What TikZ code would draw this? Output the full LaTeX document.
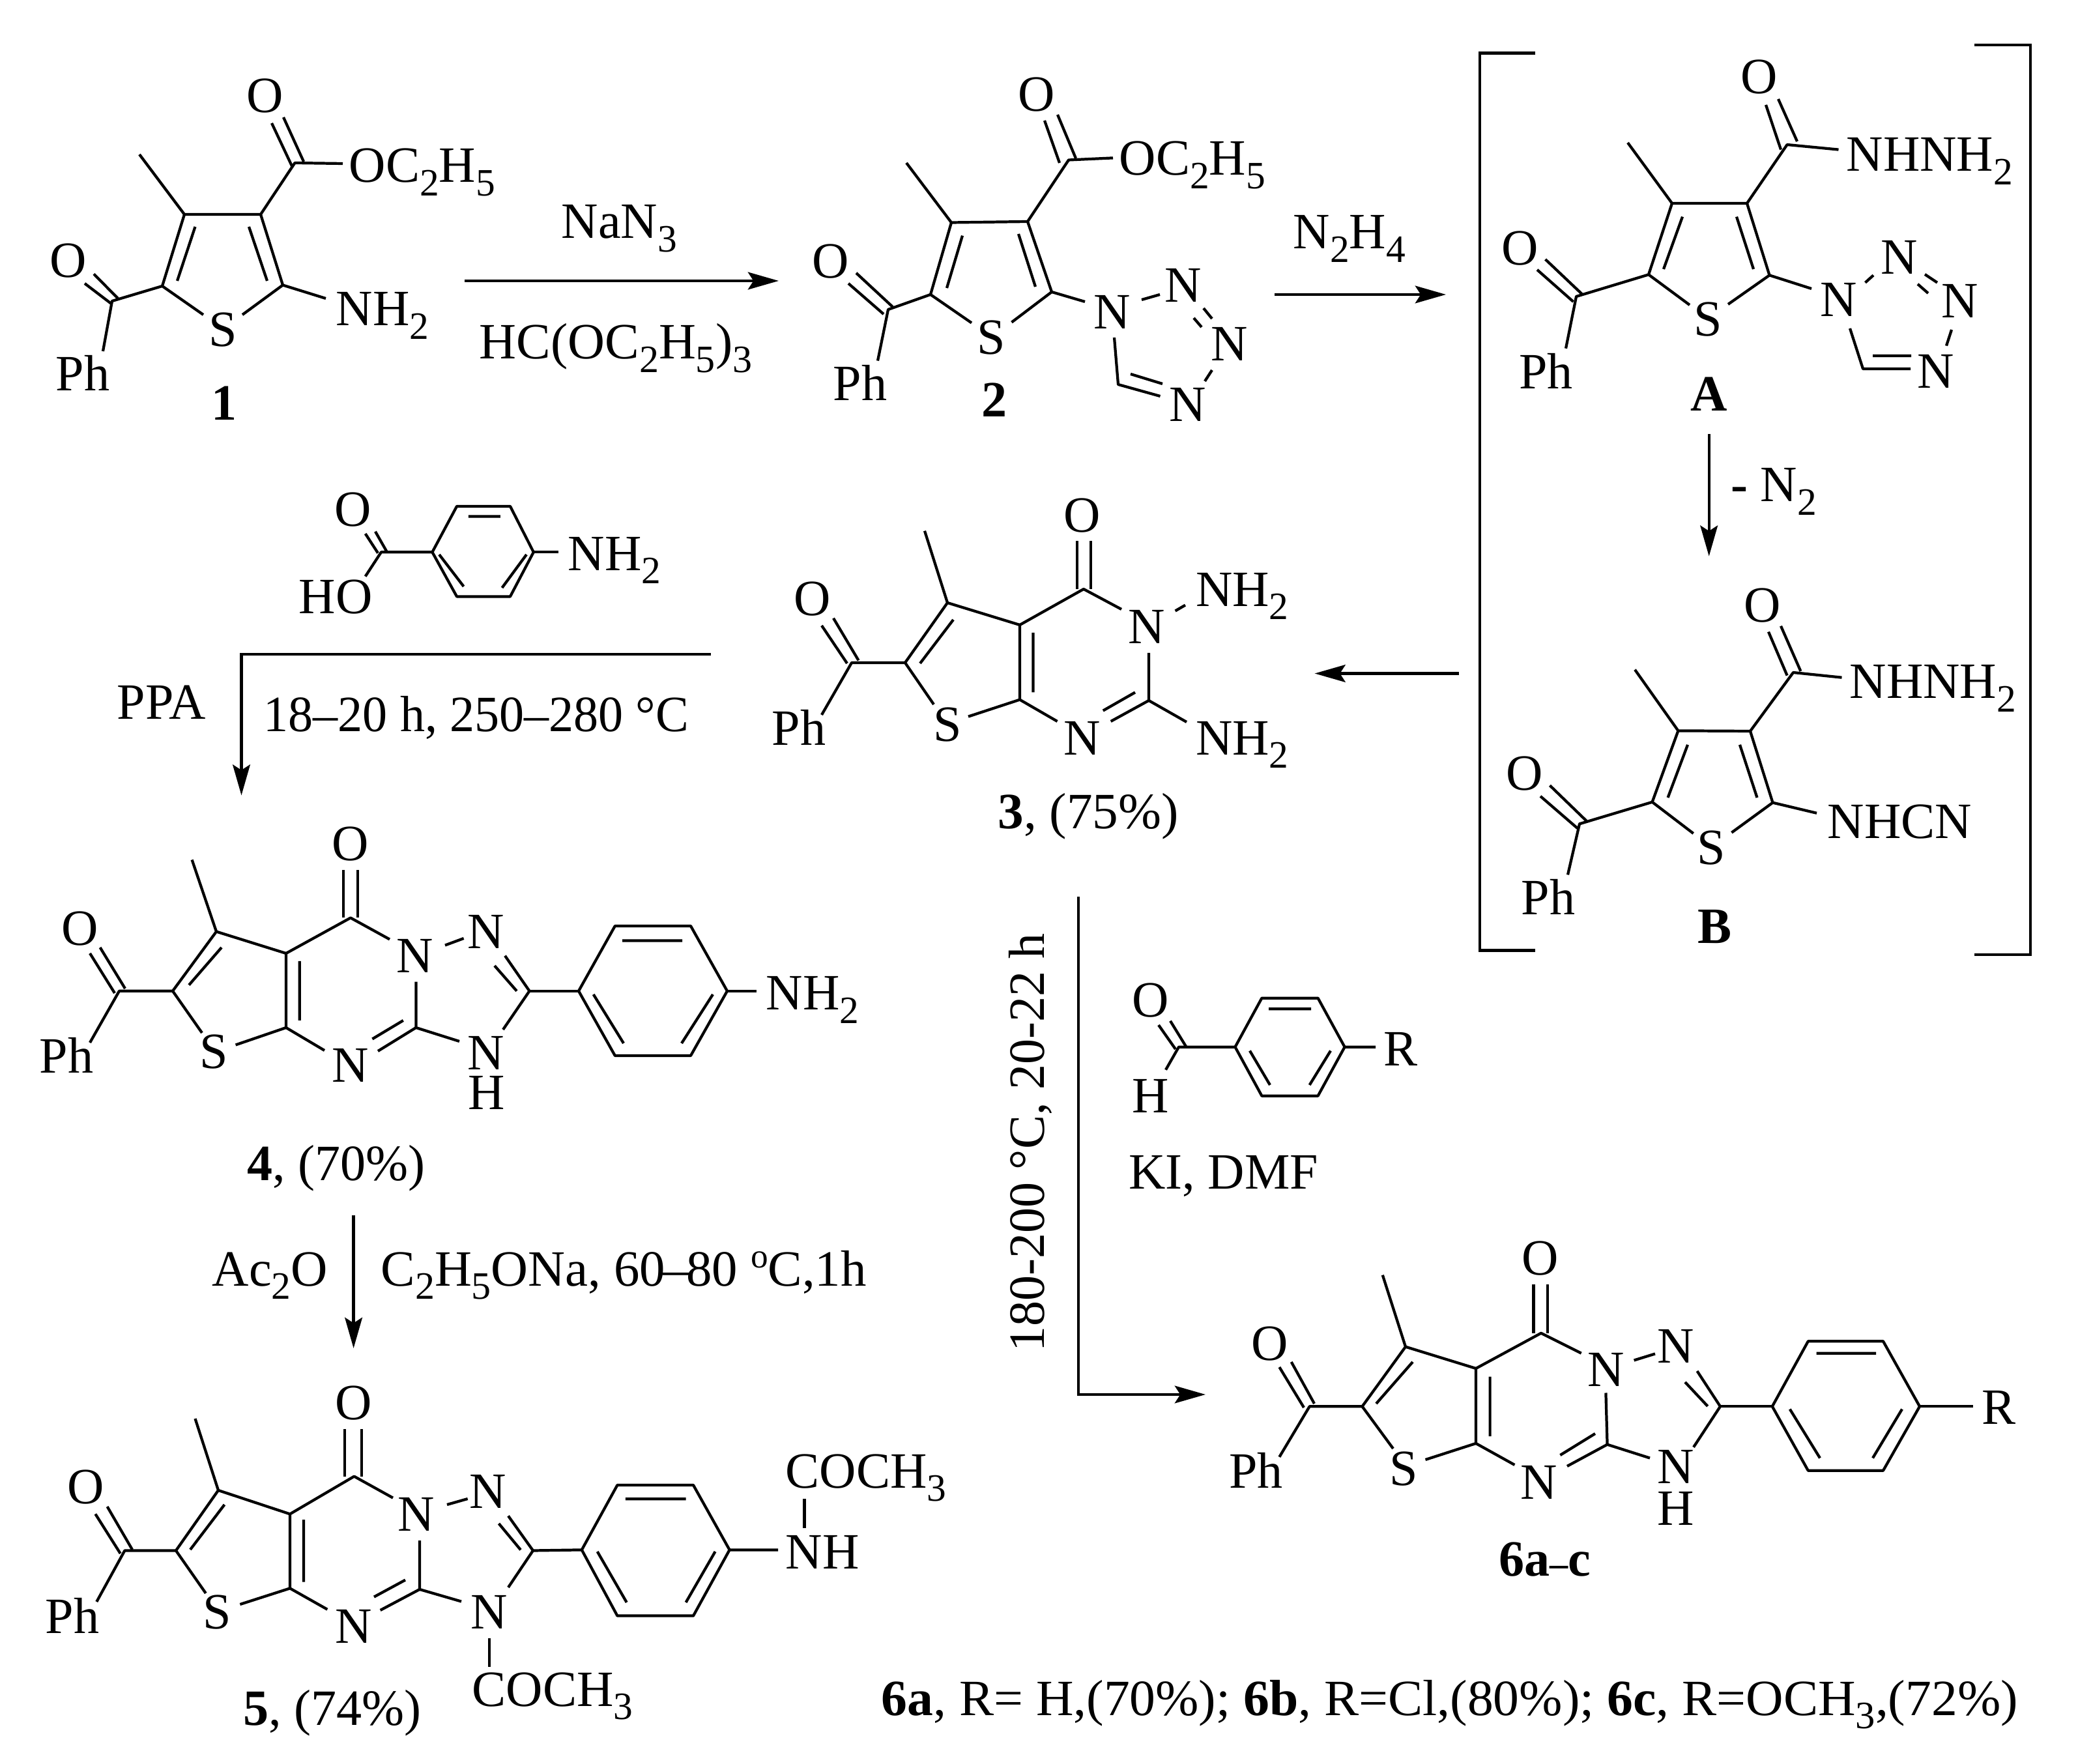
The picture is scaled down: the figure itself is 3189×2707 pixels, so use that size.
\documentclass[tikz,border=0pt]{standalone}
\usepackage{fontspec}
\setmainfont{Liberation Serif}
\usetikzlibrary{arrows.meta}
\newcommand{\su}[1]{\raisebox{-5.7pt}{\fontsize{16.9}{18}\selectfont #1}}
\tikzset{
  bond/.style={line width=1.2pt,line join=round,line cap=butt},
  conn/.style={line width=1.2pt,line join=miter},
  arr/.style={conn,-{Stealth[length=13.4pt,width=7.6pt,inset=2.4pt]}},
  lbl/.style={inner sep=0pt,anchor=base,font=\fontsize{22.2}{26}\selectfont},
  lblw/.style={inner sep=0pt,anchor=base west,font=\fontsize{22.2}{26}\selectfont}
}
\begin{document}
\begin{tikzpicture}[x=0.01cm,y=-0.01cm]
\useasboundingbox[fill=white] (0,0) rectangle (3189,2707);
% ---------- compound 1
\draw[bond] (214,237)--(283,329)--(400,329)--(434,437.5)--(372,483);
\draw[bond] (283,329)--(249,439)--(312,483);
\draw[bond] (434,437.5)--(500,458);
\draw[bond] (400,329)--(452.5,250)--(526,251);
\draw[bond] (449,257)--(417,189) (466,248)--(435,180);
\draw[bond] (299.5,348)--(272,431) (382,348)--(410,431);
\draw[bond] (249,439)--(172,462)--(158,539);
\draw[bond] (130,435)--(172,467) (144,420.5)--(181,458);
\node[lbl] (o1a) at (407,173) {O};
\node[lblw] (oet1) at (535,280) {OC\su{2}H\su{5}};
\node[lblw] (nh1) at (515,500) {NH\su{2}};
\node[lbl] (s1) at (342,532) {S};
\node[lbl] (o1b) at (105,426) {O};
\node[lblw] (ph1) at (85,600) {Ph};
\node[lbl] (c1) at (344,645) {\textbf{1}};
\node[lblw] (r1a) at (861,366) {NaN\su{3}};
\node[lblw] (r1b) at (735,551) {\scalebox{1.01}[1]{HC(OC\su{2}H\su{5})\su{3}}};
\coordinate (a1s) at (713,431); \coordinate (a1e) at (1195,431);
\draw[arr] (a1s)--(a1e);
% ---------- compound 2
\draw[bond] (1391,250)--(1460,341.5)--(1577,340)--(1614,448)--(1552.5,494.6);
\draw[bond] (1460,341.5)--(1428,452)--(1491,495.5);
\draw[bond] (1614,448)--(1665,463);
\draw[bond] (1577,340)--(1640,245.5)--(1708,242.4);
\draw[bond] (1626,250)--(1603,185) (1651,243)--(1623,176);
\draw[bond] (1477,361.6)--(1453,442) (1563,359)--(1589,440);
\draw[bond] (1428,452)--(1363,475)--(1347,553.6);
\draw[bond] (1302,435)--(1356,482) (1314,419)--(1370,471);
\draw[bond] (1752,460)--(1780,452);
\draw[bond] (1847,473)--(1860,489) (1832,488)--(1844,502);
\draw[bond] (1860,568)--(1849,585);
\draw[bond] (1710,518)--(1716,590)--(1780.5,608) (1735,574)--(1784,589);
\node[lbl] (n2a) at (1707,504.5) {N};
\node[lbl] (n2b) at (1815.5,464) {N};
\node[lbl] (n2c) at (1887,553.6) {N};
\node[lbl] (n2d) at (1822.5,647) {N};
\node[lbl] (s2) at (1521,544) {S};
\node[lbl] (o2a) at (1591,170.5) {O};
\node[lblw] (oet2) at (1717,269) {OC\su{2}H\su{5}};
\node[lbl] (o2b) at (1275,427) {O};
\node[lblw] (ph2) at (1278,615) {Ph};
\node[lbl] (c2) at (1526,640) {\textbf{2}};
\node[lblw] (r2) at (1984,382) {N\su{2}H\su{4}};
\coordinate (a2s) at (1956,452); \coordinate (a2e) at (2219,452);
\draw[arr] (a2s)--(a2e);
% ---------- brackets
\draw[conn] (2356,81.6)--(2271,81.6)--(2271,1458.5)--(2356,1458.5);
\draw[conn] (3030,69)--(3116,69)--(3116,1465)--(3030,1465);
% ---------- A
\draw[bond] (2498,219)--(2566,312)--(2681,312)--(2715.5,422.4)--(2652,467);
\draw[bond] (2566,312)--(2530,421.4)--(2593,468);
\draw[bond] (2715.5,422.4)--(2780,443);
\draw[bond] (2681,312)--(2742.6,222)--(2821.5,229.6);
\draw[bond] (2733,229.6)--(2710,161) (2758,217)--(2729,152);
\draw[bond] (2582,332.6)--(2553,413) (2665,332.6)--(2691,413);
\draw[bond] (2530,421.4)--(2419,455)--(2403,534.7);
\draw[bond] (2359,414)--(2414.5,463) (2371.6,398)--(2428,451.5);
\draw[bond] (2862.5,433.7)--(2875,422.4);
\draw[bond] (2954,421)--(2973,433.7) (2943,436)--(2959,450);
\draw[bond] (2995,506)--(2987,530.6);
\draw[bond] (2839,504)--(2859,566)--(2932,566) (2874,546)--(2933,546);
\node[lbl] (nAa) at (2821.5,486) {N};
\node[lbl] (nAb) at (2915,421) {N};
\node[lbl] (nAc) at (3007.6,488) {N};
\node[lbl] (nAd) at (2971,595.4) {N};
\node[lbl] (oAa) at (2700,144) {O};
\node[lblw] (hzA) at (2833,263) {NHNH\su{2}};
\node[lbl] (oAb) at (2332.5,406.6) {O};
\node[lbl] (sA) at (2621,516) {S};
\node[lblw] (phA) at (2330.6,597) {Ph};
\node[lbl] (cA) at (2623,631) {\textbf{A}};
\node[lblw] (rA) at (2655.5,770) {\textbf{-} N\su{2}};
\coordinate (a3s) at (2622.7,666); \coordinate (a3e) at (2622.7,853.6);
\draw[arr] (a3s)--(a3e);
% ---------- B
\draw[bond] (2509,1027.7)--(2575.4,1121.4)--(2686,1122)--(2720.5,1231.7)--(2657.4,1277.7);
\draw[bond] (2575.4,1121.4)--(2535.6,1230.8)--(2598.7,1279);
\draw[bond] (2720.5,1231.7)--(2788,1247.8);
\draw[bond] (2686,1122)--(2752,1032)--(2826.5,1039.7);
\draw[bond] (2742.6,1036.6)--(2714,969.6) (2763.4,1030)--(2733,960.7);
\draw[bond] (2590,1142.9)--(2559.6,1224) (2670,1142.9)--(2696.5,1224);
\draw[bond] (2535.6,1230.8)--(2424,1264.3)--(2406,1342.4);
\draw[bond] (2364,1221.9)--(2420.8,1271) (2378.5,1205.4)--(2434.7,1259.8);
\node[lbl] (oBa) at (2704.7,955) {O};
\node[lblw] (hzB) at (2838,1072) {NHNH\su{2}};
\node[lbl] (oBb) at (2340,1213) {O};
\node[lbl] (sB) at (2626,1326.8) {S};
\node[lblw] (cnB) at (2804,1286.6) {NHCN};
\node[lblw] (phB) at (2334,1403.6) {Ph};
\node[lbl] (cB) at (2632,1448) {\textbf{B}};
\coordinate (a4s) at (2239,1033.5); \coordinate (a4e) at (2017.6,1033.5);
\draw[arr] (a4s)--(a4e);
% ---------- 3
\draw[bond] (1419,814.7)--(1454,925)--(1389,1017)--(1433,1081);
\draw[bond] (1454,925)--(1565,959)--(1565,1073.7)--(1486,1099.6);
\draw[bond] (1565,959)--(1663,904)--(1721,935);
\draw[bond] (1653,830.4)--(1653,904) (1674,830)--(1674,904);
\draw[bond] (1803.6,937.5)--(1819,928.6);
\draw[bond] (1763,1002)--(1763,1075)--(1704.7,1107) (1742,1062.5)--(1692.8,1090.6);
\draw[bond] (1565,1073.7)--(1622.6,1107);
\draw[bond] (1763,1075)--(1821,1108);
\draw[bond] (1463,951)--(1412,1018) (1585.4,971)--(1585.4,1062.5);
\draw[bond] (1389,1017)--(1307,1017)--(1261,1097);
\draw[bond] (1261,960)--(1300,1018) (1279,948.7)--(1317.5,1013.4);
\node[lbl] (o3a) at (1661,817) {O};
\node[lbl] (n3a) at (1759.4,988) {N};
\node[lblw] (nh3a) at (1834.5,930.8) {NH\su{2}};
\node[lbl] (n3b) at (1661,1158.5) {N};
\node[lblw] (nh3b) at (1834.5,1158.5) {NH\su{2}};
\node[lbl] (s3) at (1454,1137.5) {S};
\node[lbl] (o3b) at (1247,945) {O};
\node[lblw] (ph3) at (1184,1143.8) {Ph};
\node[lblw] (c3) at (1531,1272) {\scalebox{1.015}[1]{\textbf{3}, (75\%)}};
% ---------- arrow 3 to 6
\coordinate (a5s) at (1655,1376); \coordinate (a5m) at (1655,2140); \coordinate (a5e) at (1850,2140);
\draw[arr] (a5s)--(a5m)--(a5e);
\node[lbl,rotate=90] (t5) at (1602,1753.5) {180-200 °C, 20-22 h};
% ---------- arrow 3 to 4
\coordinate (a6s) at (1091,1003.8); \coordinate (a6m) at (370.5,1003.8); \coordinate (a6e) at (370.5,1220.5);
\draw[arr] (a6s)--(a6m)--(a6e);
\node[lblw] (ppa) at (179,1103.4) {PPA};
\node[lblw] (t6) at (404,1123) {\scalebox{.975}[1]{18–20 h, 250–280 °C}};
% ---------- aminobenzoic acid
\draw[bond] (663.4,847.3)--(701,777)--(783,777)--(818.8,847.3)--(783,915.4)--(701,915.4)--cycle;
\draw[bond] (718.8,792.6)--(767.9,792.6) (674,851)--(711.6,900) (808,851)--(770.5,902);
\draw[bond] (560.7,884.5)--(585,847.3)--(663.4,847.3);
\draw[bond] (560.7,819)--(580,848.7) (576,815.7)--(593.8,847);
\draw[bond] (818.8,847.3)--(857,847.3);
\node[lbl] (oab) at (542,807.3) {O};
\node[lblw] (hoab) at (458,942) {HO};
\node[lblw] (nhab) at (871,875.4) {NH\su{2}};
% ---------- 4
\draw[bond] (294.6,1319.4)--(332,1429.6)--(265,1520.8)--(310,1585);
\draw[bond] (332,1429.6)--(439,1463)--(439,1577)--(361.6,1603.5);
\draw[bond] (439,1463)--(538,1408.5)--(598,1441.5);
\draw[bond] (527,1334.9)--(527,1408.5) (549,1334.9)--(549,1408.5);
\draw[bond] (683,1450.6)--(711.6,1440);
\draw[bond] (775,1466.7)--(812.5,1520.8)--(772,1580) (759,1482)--(793,1520.8);
\draw[bond] (705,1598)--(638.4,1577)--(638.4,1506.7);
\draw[bond] (638.4,1577)--(580,1613) (618.8,1566)--(571.4,1594.4);
\draw[bond] (439,1577)--(498,1612);
\draw[bond] (340,1454)--(290,1511.6) (459.8,1475)--(459.8,1566);
\draw[bond] (265,1520.8)--(183,1520.8)--(138,1600);
\draw[bond] (138,1463)--(176,1524) (153.6,1454)--(192,1517);
\draw[bond] (888,1520.8)--(943.8,1421)--(1060,1421)--(1116,1520.8)--(1060,1620)--(943.8,1620)--cycle;
\draw[bond] (812.5,1520.8)--(888,1520.8) (1116,1520.8)--(1160.7,1520.8);
\draw[bond] (955,1443.6)--(1047,1443.6) (910.7,1526)--(957,1601) (1094,1526)--(1046,1601);
\node[lbl] (o4a) at (538,1320.8) {O};
\node[lbl] (n4a) at (636.6,1492.7) {N};
\node[lbl] (n4b) at (745.5,1456) {N};
\node[lbl] (n4c) at (745.5,1641.4) {N};
\node[lbl] (h4) at (747,1703) {H};
\node[lbl] (n4d) at (538,1661) {N};
\node[lbl] (s4) at (328.6,1640) {S};
\node[lbl] (o4b) at (123,1450.6) {O};
\node[lblw] (ph4) at (60,1647) {Ph};
\node[lblw] (nh4) at (1175,1550) {NH\su{2}};
\node[lblw] (c4) at (379,1812) {\textbf{4}, (70\%)};
% ---------- arrow 4 to 5
\coordinate (a7s) at (542.6,1865); \coordinate (a7e) at (542.6,2069);
\draw[arr] (a7s)--(a7e);
\node[lblw] (ac) at (325,1973.5) {Ac\su{2}O};
\node[lblw] (t7) at (583.7,1973.5) {\scalebox{1.01}[1]{C\su{2}H\su{5}ONa, 60\kern-1pt–\kern-1pt80 \raisebox{8pt}{\fontsize{15}{16}\selectfont o}C,1h}};
% ---------- 5
\draw[bond] (299.5,2177)--(335,2287)--(270,2379.5)--(315.8,2445);
\draw[bond] (335,2287)--(445,2323.4)--(445,2437.4)--(368.4,2462);
\draw[bond] (445,2323.4)--(543.5,2265.6)--(603,2298.6);
\draw[bond] (529,2193)--(529,2265.6) (555,2193)--(555,2265.6);
\draw[bond] (686,2309)--(717.7,2300);
\draw[bond] (780,2326.3)--(818,2379.5)--(780,2436) (765.5,2338)--(799,2378.4);
\draw[bond] (751,2514)--(751,2557.7);
\draw[bond] (708,2457.6)--(644,2439)--(644,2364);
\draw[bond] (644,2439)--(583.7,2471) (622,2424.6)--(574,2450.6);
\draw[bond] (445,2437.4)--(502.4,2469.8);
\draw[bond] (344.5,2309)--(292,2378) (466,2332)--(466,2427.5);
\draw[bond] (270,2379.5)--(191.4,2379.5)--(148.3,2458);
\draw[bond] (146.4,2323.4)--(184.7,2384) (164.6,2312)--(203,2378);
\draw[bond] (892.8,2378.4)--(947.4,2279)--(1064,2279)--(1119.6,2378.4)--(1064,2479.6)--(947.4,2479.6)--cycle;
\draw[bond] (818,2379.5)--(892.8,2378.4) (1119.6,2378.4)--(1194,2378.4);
\draw[bond] (959.8,2300.3)--(1052.6,2300.3) (916.7,2381)--(961.7,2459) (1097.6,2381)--(1052.6,2459);
\draw[bond] (1234.4,2344.8)--(1234.4,2300.3);
\node[lbl] (o5a) at (542.6,2178.8) {O};
\node[lbl] (n5a) at (639,2349.4) {N};
\node[lbl] (n5b) at (749,2314.7) {N};
\node[lbl] (n5c) at (751,2499.8) {N};
\node[lblw] (ac5a) at (724,2618.4) {COCH\su{3}};
\node[lbl] (n5d) at (542.6,2521.8) {N};
\node[lbl] (s5) at (333,2499.8) {S};
\node[lbl] (o5b) at (132,2307) {O};
\node[lblw] (ph5) at (69,2506.8) {Ph};
\node[lblw] (nh5) at (1205,2407.3) {NH};
\node[lblw] (ac5b) at (1205,2283) {COCH\su{3}};
\node[lblw] (c5) at (373,2647.3) {\textbf{5}, (74\%)};
\node[lblw] (foot) at (1352,2632) {\scalebox{1.02}[1]{\textbf{6a}, R= H,(70\%); \textbf{6b}, R=Cl,(80\%); \textbf{6c}, R=OCH\su{3},(72\%)}};
% ---------- benzaldehyde
\draw[bond] (1895.5,1606.7)--(1936.4,1531.7)--(2022.6,1531.7)--(2063.6,1606.7)--(2022.6,1681.7)--(1936.4,1681.7)--cycle;
\draw[bond] (1947,1548.3)--(2012,1548.3) (1918,1612.5)--(1949,1665) (2042,1612.5)--(2009.7,1665);
\draw[bond] (1789,1641.7)--(1809,1606.7)--(1895.5,1606.7) (2063.6,1606.7)--(2111,1606.7);
\draw[bond] (1778,1573)--(1804,1610) (1796,1566.7)--(1820,1605.8);
\node[lbl] (oal) at (1766,1560.8) {O};
\node[lbl] (hal) at (1766,1708) {H};
\node[lblw] (ral) at (2123,1635.8) {R};
\node[lblw] (kidmf) at (1731.7,1825) {KI, DMF};
% ---------- 6
\draw[bond] (2121.8,1956.7)--(2157,2066.7)--(2090.5,2158.3)--(2138,2223);
\draw[bond] (2157,2066.7)--(2265,2100)--(2265,2215)--(2187.5,2240);
\draw[bond] (2265,2100)--(2365,2045.8)--(2426.7,2076.7);
\draw[bond] (2353.4,1970.8)--(2353.4,2045.8) (2375,1970.8)--(2375,2045.8);
\draw[bond] (2507.6,2087.5)--(2540,2077.5);
\draw[bond] (2604.5,2104)--(2640,2158.3)--(2599,2220.8) (2586,2121)--(2620.7,2158);
\draw[bond] (2532,2237.5)--(2466.6,2216.7)--(2464.4,2137.5);
\draw[bond] (2466.6,2216.7)--(2405,2250) (2448,2200)--(2394.4,2233);
\draw[bond] (2265,2215)--(2324.4,2248);
\draw[bond] (2168,2090)--(2112,2154) (2286.6,2112.5)--(2286.6,2204);
\draw[bond] (2090.5,2158.3)--(2009.7,2158.3)--(1963.4,2235.8);
\draw[bond] (1963.4,2098)--(2001,2160) (1981.7,2090)--(2017,2154);
\draw[bond] (2719.8,2158.3)--(2774.8,2058.3)--(2890,2058.3)--(2946,2158.3)--(2890,2256.7)--(2774.8,2256.7)--cycle;
\draw[bond] (2640,2158.3)--(2719.8,2158.3) (2946,2158.3)--(3028,2158.3);
\draw[bond] (2787.7,2076.7)--(2879,2076.7) (2746.8,2162.5)--(2793,2237.5) (2919,2162.5)--(2874,2237.5);
\node[lbl] (o6a) at (2364,1956.7) {O};
\node[lbl] (n6a) at (2464.4,2127.5) {N};
\node[lbl] (n6b) at (2572,2091.7) {N};
\node[lbl] (n6c) at (2572,2276.7) {N};
\node[lbl] (h6) at (2572,2340) {H};
\node[lbl] (n6d) at (2362,2300) {N};
\node[lbl] (s6) at (2154,2279) {S};
\node[lbl] (o6b) at (1949,2087.5) {O};
\node[lblw] (ph6) at (1885.8,2283) {Ph};
\node[lblw] (r6) at (3041,2185) {R};
\node[lbl] (c6) at (2371,2418) {\textbf{6a}{\fontsize{16}{18}\selectfont\textbf{–}}\textbf{c}};
\end{tikzpicture}
\end{document}
